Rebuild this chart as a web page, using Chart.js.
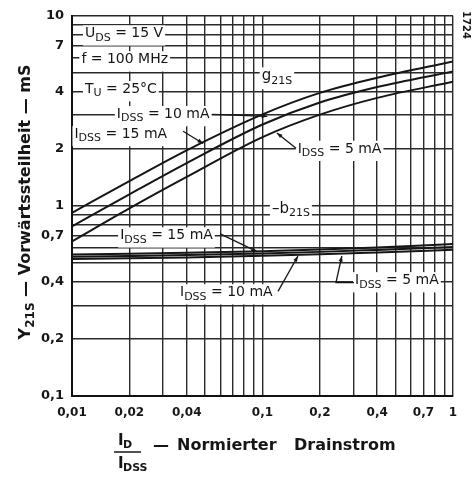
<!DOCTYPE html>
<html><head><meta charset="utf-8">
<script src="https://cdn.jsdelivr.net/npm/chart.js@4/dist/chart.umd.min.js"></script>
<style>html,body{margin:0;padding:0;background:#fff;}canvas{display:block;}</style>
</head><body>
<canvas id="c" width="474" height="479"></canvas>
<script>
// ---- data ----
const xVals   = [0.01, 0.02, 0.04, 0.1, 0.2, 0.4, 1];
const g21s_15 = [0.92, 1.35, 1.96, 3.03, 3.93, 4.72, 5.75];
const g21s_10 = [0.78, 1.15, 1.68, 2.68, 3.50, 4.22, 5.10];
const g21s_5  = [0.65, 0.97, 1.42, 2.30, 3.02, 3.70, 4.50];
const b21s_15 = [0.555, 0.560, 0.567, 0.578, 0.590, 0.605, 0.630];
const b21s_10 = [0.540, 0.545, 0.551, 0.562, 0.573, 0.587, 0.607];
const b21s_5  = [0.525, 0.530, 0.536, 0.546, 0.556, 0.569, 0.588];
const xTickLabels = [0.01, 0.02, 0.04, 0.1, 0.2, 0.4, 0.7, 1];
const yTickLabels = [0.1, 0.2, 0.4, 0.7, 1, 2, 4, 7, 10];

function logGrid(min, max){
  const out=[]; for(let d=min; d<max*0.999; d*=10){ for(let k=1;k<10;k++){ out.push(+(k*d).toPrecision(3)); } }
  out.push(max); return out;
}
const fmt = v => String(+v.toPrecision(3)).replace('.', ',');
const has = (arr,v) => arr.some(a => Math.abs(a-v)/a < 1e-6);
const pts = ys => xVals.map((x,i)=>({x, y: ys[i]}));

const FONT = '"DejaVu Sans", sans-serif';
const INK = '#161616';

// annotations in data coordinates
const labels = [
  {x:0.0117, y:8.05, parts:[['U'],['DS',1],[' = 15 V']]},
  {x:0.0112, y:5.88, parts:[['f = 100 MHz']]},
  {x:0.0117, y:4.10, parts:[['T'],['U',1],[' = 25°C']]},
  {x:0.0172, y:3.03, parts:[['I'],['DSS',1],[' = 10 mA']]},
  {x:0.0103, y:2.38, parts:[['I'],['DSS',1],[' = 15 mA']]},
  {x:0.099, y:4.80, parts:[['g'],['21S',1]], size:15},
  {x:0.153, y:1.99, parts:[['I'],['DSS',1],[' = 5 mA']]},
  {x:0.112, y:0.964, parts:[['–b'],['21S',1]], size:15},
  {x:0.0179, y:0.697, parts:[['I'],['DSS',1],[' = 15 mA']]},
  {x:0.0369, y:0.35, parts:[['I'],['DSS',1],[' = 10 mA']]},
  {x:0.306, y:0.405, parts:[['I'],['DSS',1],[' = 5 mA']]}
];
const leaders = [
  [[0.0545,3.03],[0.106,2.96]],
  [[0.0383,2.47],[0.0488,2.13]],
  [[0.150,2.01],[0.119,2.42]],
  [[0.0600,0.713],[0.0936,0.575]],
  [[0.1206,0.355],[0.1535,0.545]],
  [[0.302,0.395],[0.243,0.395],[0.261,0.545]]
];

function richWidth(ctx, parts, size){
  let w=0; for(const p of parts){ ctx.font = (p[1]? Math.round(size*0.75) : size)+'px '+FONT; w+=ctx.measureText(p[0]).width; } return w;
}
function drawRich(ctx, parts, x, y, size){
  ctx.textBaseline='middle'; ctx.textAlign='left';
  for(const p of parts){
    const s = p[1]? Math.round(size*0.75) : size;
    ctx.font = s+'px '+FONT;
    ctx.fillText(p[0], x, p[1]? y+size*0.3 : y);
    x += ctx.measureText(p[0]).width;
  }
  return x;
}

const annot = {
  id:'annot',
  beforeDatasetsDraw(chart){
    const {ctx, scales:{x:xs, y:ys}} = chart;
    ctx.save(); ctx.fillStyle='#fff';
    for(const l of labels){
      const size=l.size||14; const px=xs.getPixelForValue(l.x), py=ys.getPixelForValue(l.y);
      const w=richWidth(ctx,l.parts,size);
      ctx.fillRect(px-2, py-size*0.6, w+4, size*1.45);
    }
    ctx.restore();
  },
  afterDatasetsDraw(chart){
    const {ctx, scales:{x:xs, y:ys}} = chart;
    ctx.save(); ctx.fillStyle=INK; ctx.strokeStyle=INK; ctx.lineWidth=1.3;
    for(const l of labels){
      drawRich(ctx, l.parts, xs.getPixelForValue(l.x), ys.getPixelForValue(l.y), l.size||14);
    }
    for(const L of leaders){
      const P=L.map(p=>[xs.getPixelForValue(p[0]), ys.getPixelForValue(p[1])]);
      ctx.beginPath(); ctx.moveTo(P[0][0],P[0][1]);
      for(let i=1;i<P.length;i++) ctx.lineTo(P[i][0],P[i][1]);
      ctx.stroke();
      const a=P[P.length-1], b=P[P.length-2];
      const ang=Math.atan2(a[1]-b[1], a[0]-b[0]);
      ctx.beginPath(); ctx.moveTo(a[0],a[1]);
      ctx.lineTo(a[0]-6*Math.cos(ang-0.35), a[1]-6*Math.sin(ang-0.35));
      ctx.lineTo(a[0]-6*Math.cos(ang+0.35), a[1]-6*Math.sin(ang+0.35));
      ctx.closePath(); ctx.fill();
    }
    ctx.restore();
  },
  afterDraw(chart){
    const {ctx} = chart;
    ctx.save(); ctx.fillStyle=INK;
    // y title
    ctx.translate(26, 202); ctx.rotate(-Math.PI/2);
    const yParts=[['Y'],['21S',1],[' — Vorwärtssteilheit — mS']];
    const fs=p=>'bold '+(p[1]?12:16)+'px '+FONT;
    let w=0; for(const p of yParts){ ctx.font=fs(p); w+=ctx.measureText(p[0]).width; }
    let x=-w/2;
    for(const p of yParts){ ctx.font=fs(p); ctx.textBaseline='middle'; ctx.fillText(p[0], x, p[1]?5:0); x+=ctx.measureText(p[0]).width; }
    ctx.restore();
    // x title
    ctx.save(); ctx.fillStyle=INK; ctx.strokeStyle=INK; ctx.textBaseline='middle';
    ctx.font='bold 15px '+FONT; ctx.fillText('I',118,441); ctx.font='bold 11px '+FONT; ctx.fillText('D',123,445);
    ctx.lineWidth=1.5; ctx.beginPath(); ctx.moveTo(114,452); ctx.lineTo(141,452); ctx.stroke();
    ctx.font='bold 15px '+FONT; ctx.fillText('I',118,464); ctx.font='bold 11px '+FONT; ctx.fillText('DSS',123,468);
    ctx.font='bold 16px '+FONT;
    ctx.fillText('—', 153, 446);
    ctx.fillText('Normierter', 177, 446);
    ctx.fillText('Drainstrom', 294, 446);
    ctx.restore();
    // figure number
    ctx.save(); ctx.fillStyle=INK; ctx.translate(466, 25); ctx.rotate(Math.PI/2);
    ctx.font='bold 10px '+FONT; ctx.textAlign='center'; ctx.textBaseline='middle'; ctx.fillText('1724',0,0);
    ctx.restore();
  }
};

const ds = (data) => ({data, borderColor:INK, borderWidth:2, pointRadius:0, fill:false, cubicInterpolationMode:'monotone'});

new Chart(document.getElementById('c'), {
  type:'line',
  data:{ datasets:[ ds(pts(g21s_15)), ds(pts(g21s_10)), ds(pts(g21s_5)), ds(pts(b21s_15)), ds(pts(b21s_10)), ds(pts(b21s_5)) ] },
  options:{
    responsive:false, animation:false, devicePixelRatio:1,
    layout:{padding:{left:0, right:21, top:14, bottom:0}},
    plugins:{legend:{display:false}, tooltip:{enabled:false}},
    scales:{
      x:{ type:'logarithmic', min:0.01, max:1,
        afterBuildTicks(s){ s.ticks = logGrid(0.01,1).map(v=>({value:v})); },
        afterFit(s){ s.height = 83; },
        grid:{color:'#2a2a2a', lineWidth:1.4, drawTicks:false},
        border:{color:'#111', width:2},
        ticks:{autoSkip:false, maxRotation:0, padding:10, color:INK, font:{family:FONT, size:12, weight:'bold'},
          callback:(v)=> has(xTickLabels,v)? fmt(v) : ''}
      },
      y:{ type:'logarithmic', min:0.1, max:10,
        afterBuildTicks(s){ s.ticks = logGrid(0.1,10).map(v=>({value:v})); },
        afterFit(s){ s.width = 72; },
        grid:{color:'#2a2a2a', lineWidth:1.4, drawTicks:false},
        border:{color:'#111', width:2},
        ticks:{autoSkip:false, padding:8, color:INK, font:{family:FONT, size:13, weight:'bold'},
          callback:(v)=> has(yTickLabels,v)? fmt(v) : ''}
      }
    }
  },
  plugins:[annot]
});
</script>
</body></html>
